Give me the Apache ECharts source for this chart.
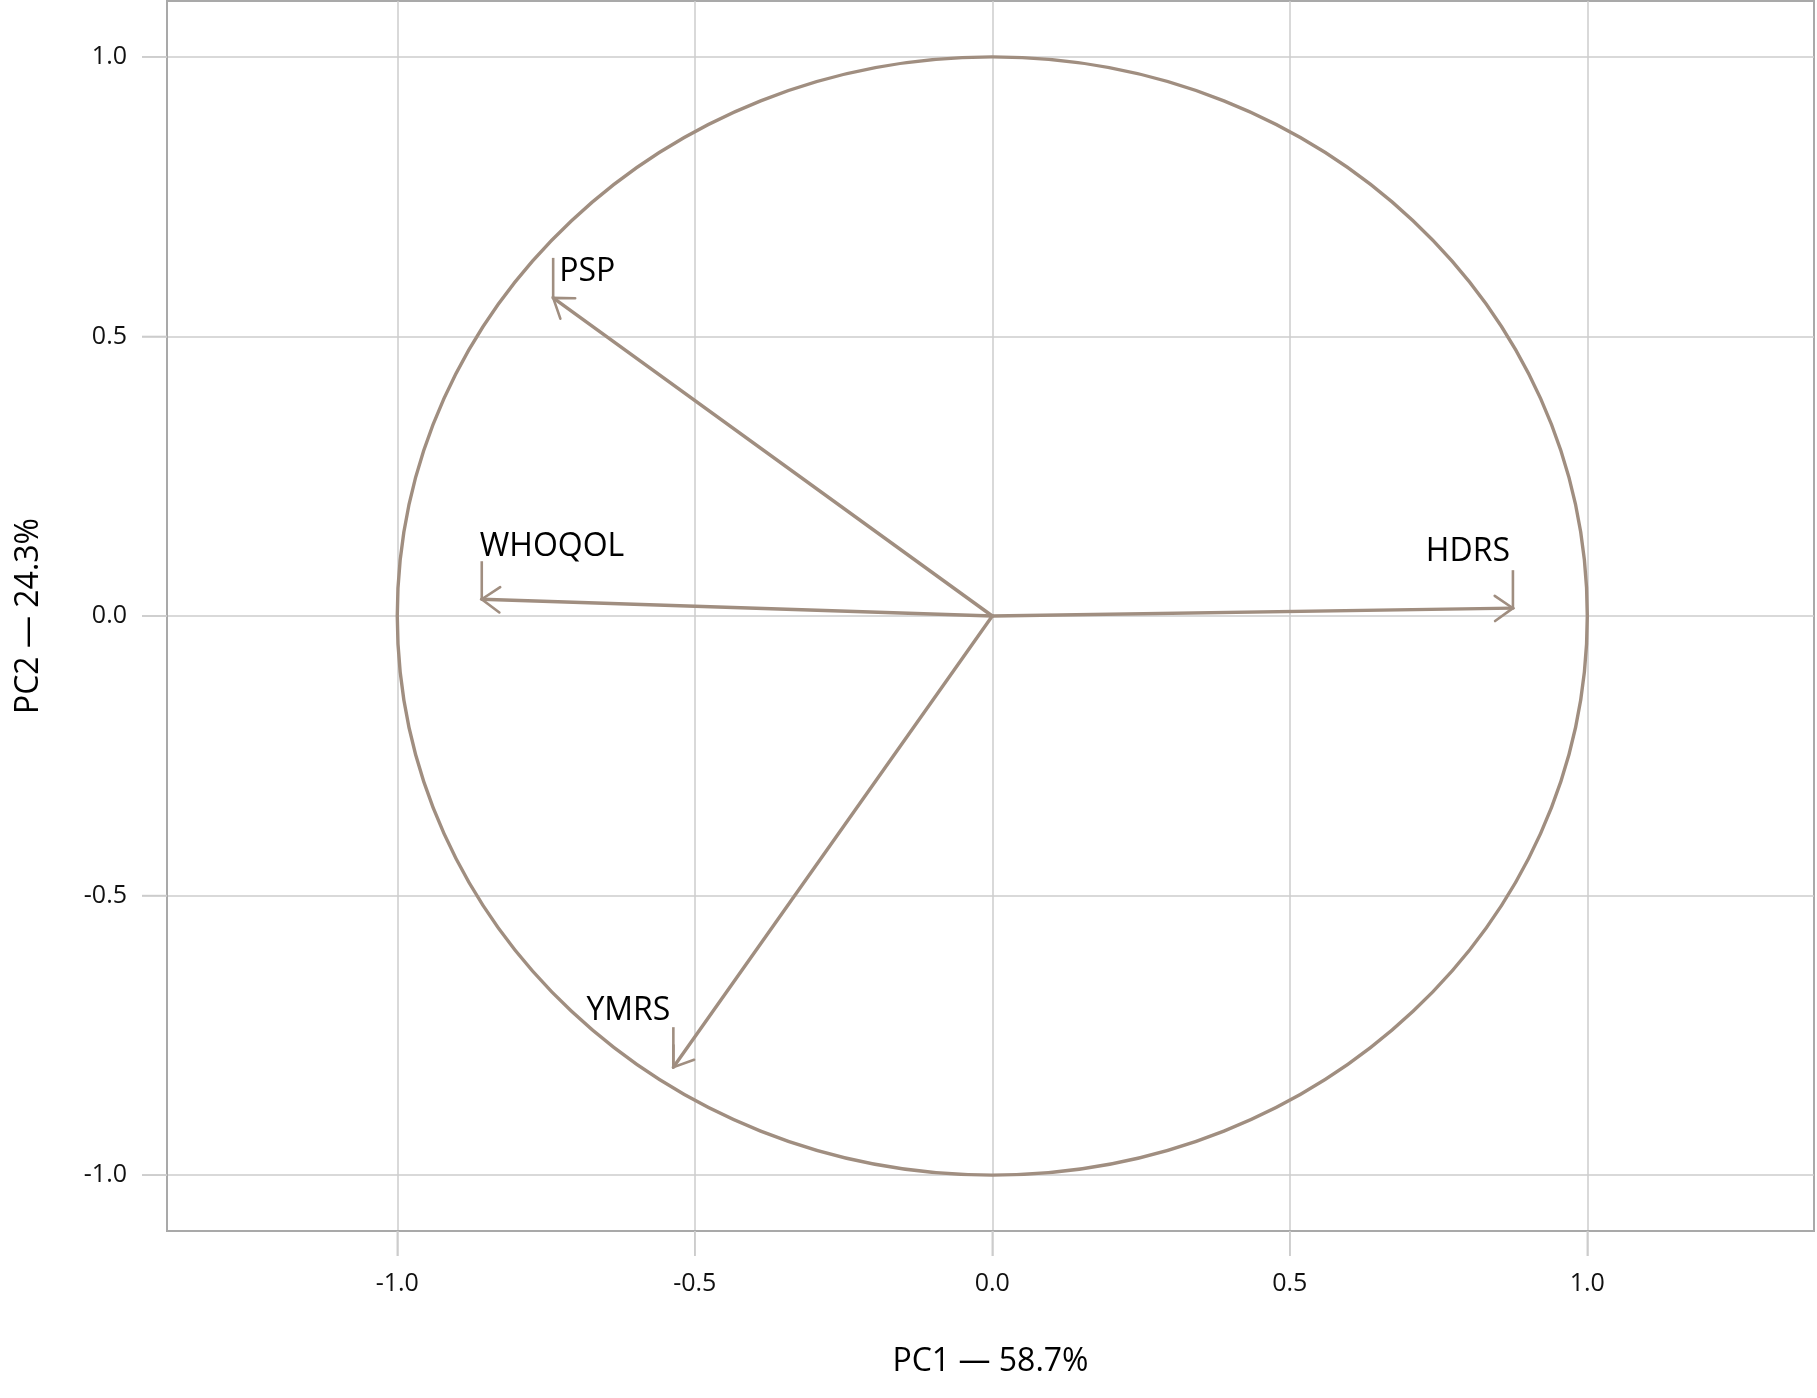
<!DOCTYPE html>
<html><head><meta charset="utf-8">
<script src="https://cdn.jsdelivr.net/npm/echarts@6/dist/echarts.min.js"></script>
<style>html,body{margin:0;padding:0;background:#fff}#c{width:1817px;height:1398px}</style>
</head><body><div id="c"></div>
<script>
// ---- data ----
const variables = ['PSP', 'WHOQOL', 'HDRS', 'YMRS'];
const pc1 = [-0.738, -0.858, 0.875, -0.536];
const pc2 = [0.569, 0.030, 0.014, -0.807];
const xTicks = [-1.0, -0.5, 0.0, 0.5, 1.0];
const yTicks = [-1.0, -0.5, 0.0, 0.5, 1.0];
const xName = 'PC1 \u2014 58.7%';
const yName = 'PC2 \u2014 24.3%';
const circleCenter = [0, 0];
const circleRadius = 1;

// ---- styling / layout (not data) ----
const FONT = '"Open Sans", "Noto Sans", sans-serif';
const ARROW_COLOR = '#a08e80';
const TICK_LEN = 25;
const labelLayout = {
  PSP:    { align: 'left',  dx: 6,  dy: -26, lead: 40 },
  WHOQOL: { align: 'left',  dx: -2, dy: -52, lead: 38 },
  HDRS:   { align: 'right', dx: -3, dy: -56, lead: 38 },
  YMRS:   { align: 'right', dx: -3, dy: -56, lead: 40 }
};

const chart = echarts.init(document.getElementById('c'), null, { renderer: 'canvas' });

const arrowData = variables.map((v, i) => [pc1[i], pc2[i]]);

function renderArrow(params, api) {
  const name = variables[params.dataIndex];
  const lay = labelLayout[name];
  const tip = api.coord([api.value(0), api.value(1)]);
  const o = api.coord(circleCenter);
  let ux = o[0] - tip[0], uy = o[1] - tip[1];
  const len = Math.sqrt(ux * ux + uy * uy);
  ux /= len; uy /= len;
  const L = 22, ang = 35 * Math.PI / 180;
  const rot = (a) => [ux * Math.cos(a) - uy * Math.sin(a), ux * Math.sin(a) + uy * Math.cos(a)];
  const r1 = rot(ang), r2 = rot(-ang);
  const ls = { stroke: ARROW_COLOR, lineWidth: 3.4, lineCap: 'round' };
  return {
    type: 'group',
    children: [
      { type: 'line', shape: { x1: o[0], y1: o[1], x2: tip[0], y2: tip[1] }, style: ls },
      { type: 'polyline', shape: { points: [[tip[0] + L * r1[0], tip[1] + L * r1[1]], tip, [tip[0] + L * r2[0], tip[1] + L * r2[1]]] }, style: Object.assign({ fill: null }, ls, { lineWidth: 2.6 }) },
      { type: 'line', shape: { x1: tip[0], y1: tip[1], x2: tip[0], y2: tip[1] - lay.lead }, style: { stroke: ARROW_COLOR, lineWidth: 2.6 } },
      { type: 'text', style: { text: name, x: tip[0] + lay.dx, y: tip[1] + lay.dy, align: lay.align, verticalAlign: 'middle', fill: '#000', fontSize: 32, fontFamily: FONT } }
    ]
  };
}

function renderCircle(params, api) {
  const c = api.coord([api.value(0), api.value(1)]);
  const s = api.size([api.value(2), api.value(2)]);
  return {
    type: 'ellipse',
    shape: { cx: c[0], cy: c[1], rx: s[0], ry: s[1] },
    style: { fill: null, stroke: ARROW_COLOR, lineWidth: 3.4 }
  };
}

function renderXTick(params, api) {
  const cs = params.coordSys;
  const p = api.coord([api.value(0), api.value(1)]);
  const yb = cs.y + cs.height;
  return { type: 'line', shape: { x1: p[0], y1: yb, x2: p[0], y2: yb + TICK_LEN }, style: { stroke: '#cccccc', lineWidth: 1.5 } };
}
function renderYTick(params, api) {
  const cs = params.coordSys;
  const p = api.coord([api.value(0), api.value(1)]);
  return { type: 'line', shape: { x1: cs.x - TICK_LEN, y1: p[1], x2: cs.x, y2: p[1] }, style: { stroke: '#cccccc', lineWidth: 1.5 } };
}

const tickStyle = { color: '#cccccc', width: 1.5 };
const frameStyle = { color: '#a9a9a9', width: 2 };
const option = {
  animation: false,
  backgroundColor: '#ffffff',
  grid: { left: 167, right: 3, top: 1, bottom: 167, show: true, borderColor: '#a9a9a9', borderWidth: 2, backgroundColor: 'transparent' },
  xAxis: {
    type: 'value', min: -1.387, max: 1.381,
    axisLine: { show: true, onZero: false, lineStyle: frameStyle },
    axisTick: { show: true, length: TICK_LEN, lineStyle: tickStyle, customValues: xTicks },
    axisLabel: { customValues: xTicks, formatter: (v) => v.toFixed(1), fontSize: 25, color: '#111', margin: 40, fontFamily: FONT },
    splitLine: { show: true, lineStyle: tickStyle },
    name: xName, nameLocation: 'middle', nameGap: 115,
    nameTextStyle: { fontSize: 32, color: '#000', fontFamily: FONT }
  },
  yAxis: {
    type: 'value', min: -1.1, max: 1.1,
    axisLine: { show: true, onZero: false, lineStyle: frameStyle },
    axisTick: { show: true, length: TICK_LEN, lineStyle: tickStyle, customValues: yTicks },
    axisLabel: { customValues: yTicks, formatter: (v) => v.toFixed(1), fontSize: 25, color: '#111', margin: 40, fontFamily: FONT },
    splitLine: { show: true, lineStyle: tickStyle },
    name: yName, nameLocation: 'middle', nameGap: 122,
    nameTextStyle: { fontSize: 32, color: '#000', fontFamily: FONT }
  },
  series: [
    { type: 'custom', renderItem: renderXTick, data: xTicks.map(v => [v, 0]), clip: false, silent: true, z: 1 },
    { type: 'custom', renderItem: renderYTick, data: yTicks.map(v => [0, v]), clip: false, silent: true, z: 1 },
    { type: 'custom', renderItem: renderCircle, data: [[circleCenter[0], circleCenter[1], circleRadius]], silent: true, z: 2 },
    { type: 'custom', renderItem: renderArrow, data: arrowData, silent: true, z: 3 }
  ]
};
chart.setOption(option);
</script>
</body></html>
